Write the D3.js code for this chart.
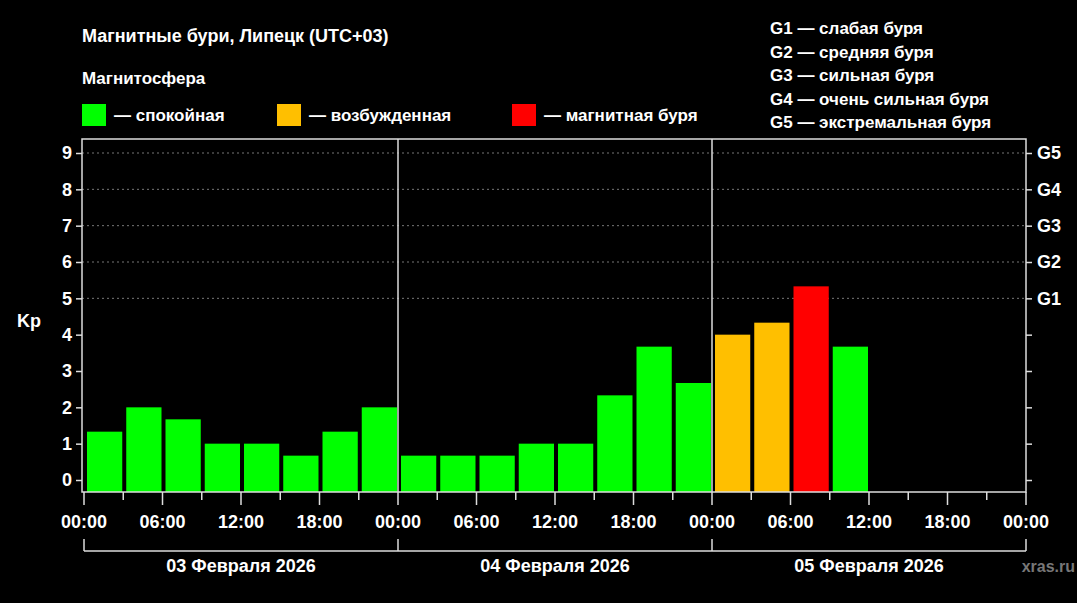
<!DOCTYPE html>
<html><head><meta charset="utf-8">
<script src="https://cdn.jsdelivr.net/npm/d3@7"></script>
<style>body{margin:0;background:#000}text{font-family:"Liberation Sans",Arial,sans-serif;font-weight:bold;fill:#fff}</style>
</head><body><svg id="c" width="1077" height="603"></svg>
<script>
const days = ["03 Февраля 2026","04 Февраля 2026","05 Февраля 2026"];
const kpValues = [1.33,2,1.67,1,1,0.67,1.33,2, 0.67,0.67,0.67,1,1,2.33,3.67,2.67, 4,4.33,5.33,3.67];
const hourLabels = ["00:00","06:00","12:00","18:00"];
const gLabels = ["G1","G2","G3","G4","G5"];
const legendItems = [["— спокойная","#00ff00"],["— возбужденная","#ffbf00"],["— магнитная буря","#ff0000"]];
const gLegend = ["G1 — слабая буря","G2 — средняя буря","G3 — сильная буря","G4 — очень сильная буря","G5 — экстремальная буря"];

const svg=d3.select("#c");
svg.append("rect").attr("width",1077).attr("height",603).attr("fill","#000");
const x=d3.scaleLinear().domain([0,72]).range([84,1026]);
const y=d3.scaleLinear().domain([0,9]).range([480,153]);
const color=v=>v>=5?"#ff0000":v>=4?"#ffbf00":"#00ff00";

svg.append("text").attr("x",82).attr("y",42).attr("font-size",18).text("Магнитные бури, Липецк (UTC+03)");
svg.append("text").attr("x",82).attr("y",84).attr("font-size",17).text("Магнитосфера");
const lx=[82,277,512];
legendItems.forEach((d,i)=>{
  svg.append("rect").attr("x",lx[i]).attr("y",104).attr("width",24).attr("height",22).attr("fill",d[1]);
  svg.append("text").attr("x",lx[i]+32).attr("y",121).attr("font-size",17).text(d[0]);
});
gLegend.forEach((t,i)=>svg.append("text").attr("x",770).attr("y",34+i*23.5).attr("font-size",17).text(t));

// grid
[5,6,7,8,9].forEach(v=>svg.append("line").attr("x1",82).attr("x2",1026).attr("y1",y(v)).attr("y2",y(v))
  .attr("stroke","#777").attr("stroke-dasharray","2,3"));
// bars
svg.selectAll(".b").data(kpValues).enter().append("rect")
 .attr("x",(d,i)=>x(i*3)+3).attr("width",x(3)-x(0)-4)
 .attr("y",d=>y(d)).attr("height",d=>y(-0.33)-y(d)).attr("fill",color);
// frame
svg.append("rect").attr("x",82).attr("y",139).attr("width",944).attr("height",353).attr("fill","none").attr("stroke","#ddd").attr("stroke-width",1.5);
[24,48].forEach(h=>svg.append("line").attr("x1",x(h)).attr("x2",x(h)).attr("y1",139).attr("y2",492).attr("stroke","#ddd").attr("stroke-width",1.5));
// left axis
const la=svg.append("g").attr("transform","translate(82,0)").call(d3.axisLeft(y).ticks(10).tickSize(6).tickSizeOuter(0));
la.select(".domain").remove();
la.selectAll("line").attr("stroke","#ddd").attr("stroke-width",1.5);
la.selectAll("text").attr("font-size",18).attr("fill","#fff").attr("x",-10);
svg.append("text").attr("x",17).attr("y",327).attr("font-size",18).text("Kp");
// right axis
const ra=svg.append("g").attr("transform","translate(1026,0)").call(d3.axisRight(y).ticks(10).tickSize(6).tickFormat(v=>v>=5?gLabels[v-5]:""));
ra.select(".domain").remove();
ra.selectAll("line").attr("stroke","#ddd").attr("stroke-width",1.5);
ra.selectAll("text").attr("font-size",18).attr("fill","#fff").attr("x",11);
// bottom axis
const ticks=d3.range(0,73,3);
const ba=svg.append("g").attr("transform","translate(0,492)").call(d3.axisBottom(x).tickValues(ticks).tickSize(0).tickFormat(""));
ba.select(".domain").remove();
ticks.forEach(t=>svg.append("line").attr("x1",x(t)).attr("x2",x(t)).attr("y1",492).attr("y2",t%6===0?505:500).attr("stroke","#ddd").attr("stroke-width",1.5));
d3.range(0,73,6).forEach(t=>svg.append("text").attr("x",x(t)).attr("y",528).attr("text-anchor","middle").attr("font-size",18).text(hourLabels[(t/6)%4]));
// day brackets
svg.append("line").attr("x1",x(0)).attr("x2",x(72)).attr("y1",551).attr("y2",551).attr("stroke","#ddd").attr("stroke-width",1.5);
[0,24,48,72].forEach(h=>svg.append("line").attr("x1",x(h)).attr("x2",x(h)).attr("y1",539).attr("y2",551).attr("stroke","#ddd").attr("stroke-width",1.5));
days.forEach((d,i)=>svg.append("text").attr("x",x(i*24+12)).attr("y",572).attr("text-anchor","middle").attr("font-size",18).text(d));
svg.append("text").attr("x",1075).attr("y",572).attr("text-anchor","end").attr("font-size",16).style("fill","#777").text("xras.ru");
</script></body></html>
